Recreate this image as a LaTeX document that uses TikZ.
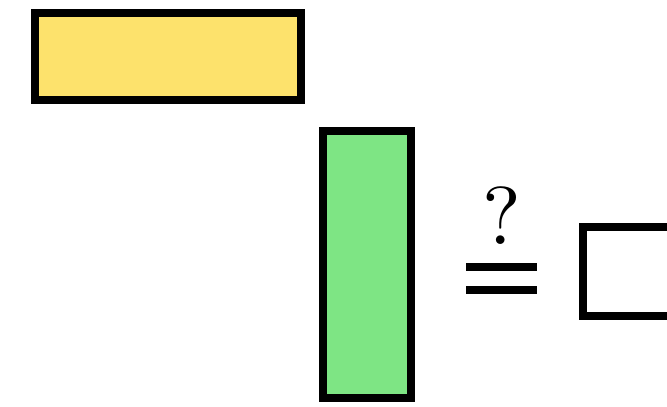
\documentclass[tikz,border=0pt]{standalone}
\usepackage{xcolor}
\usepackage{graphicx}
\usepackage{tikz}
\usetikzlibrary{positioning}

\definecolor{boxyellow}{RGB}{253,226,108}
\definecolor{boxgreen}{RGB}{126,229,132}

\begin{document}
\begin{tikzpicture}[
  x=1pt, y=-1pt,
  blk/.style={draw=black, line width=8pt, inner sep=0pt, outer sep=0pt},
  ybox/.style={blk, fill=boxyellow, minimum width=266pt, minimum height=87pt},
  gbox/.style={blk, fill=boxgreen, minimum width=88pt, minimum height=267pt},
  ebox/.style={blk, fill=white, minimum width=140pt, minimum height=89pt},
  bar/.style={line width=8pt, line cap=butt}
]
\useasboundingbox (0,0) rectangle (667,407);
\node[ybox] (wide) at (168,56.3) {};
\node[gbox] (tall) at (367.2,264.3) {};
\node[ebox, anchor=west] (empty) at (583,271.5) {};
% equals sign with a question mark on top
\draw[bar] (466,266.7) -- (536.7,266.7);
\draw[bar] (466,290) -- (536.7,290);
\node[anchor=base, inner sep=0pt] (ask) at (502,244)
  {\scalebox{8.2}{?}};
\end{tikzpicture}
\end{document}
